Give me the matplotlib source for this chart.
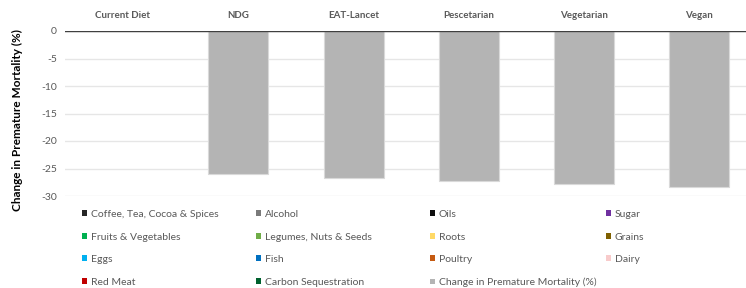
import matplotlib
matplotlib.use("Agg")
import matplotlib.pyplot as plt
from matplotlib.patches import Patch
import numpy as np

plt.rcParams['font.family'] = ['Lato', 'DejaVu Sans']

# ---- data ----
diets = ["Current Diet", "NDG", "EAT-Lancet", "Pescetarian", "Vegetarian", "Vegan"]
mortality_change = [0.0, -26.0, -26.8, -27.2, -27.9, -28.3]

components = ["Coffee, Tea, Cocoa & Spices", "Alcohol", "Oils", "Sugar",
              "Fruits & Vegetables", "Legumes, Nuts & Seeds", "Roots", "Grains",
              "Eggs", "Fish", "Poultry", "Dairy",
              "Red Meat", "Carbon Sequestration"]
component_values = {c: [0, 0, 0, 0, 0, 0] for c in components}
component_colors = ["#262626", "#7a7a7a", "#0d0d0d", "#7030a0",
                    "#00b050", "#70ad47", "#ffd966", "#7f6000",
                    "#00b0f0", "#0070c0", "#c55a11", "#f8cbcb",
                    "#c00000", "#00612e"]
mort_label = "Change in Premature Mortality (%)"
mort_color = "#b4b4b4"

yticks = [0, -5, -10, -15, -20, -25, -30]

W, H = 746, 288
fig = plt.figure(figsize=(W / 100, H / 100), dpi=100)
ax = fig.add_axes([65.3 / W, 1 - 196 / H, 1 - 65.3 / W, 165 / H])

x = np.arange(len(diets))
handles = []
for c, col in zip(components, component_colors):
    ax.bar(x, component_values[c], width=0.52, color=col)
    handles.append(Patch(facecolor=col, edgecolor='none', label=c))
ax.bar(x, mortality_change, width=0.52, color=mort_color,
       edgecolor="#d9d9d9", linewidth=0.8, zorder=3)
handles.append(Patch(facecolor=mort_color, edgecolor='none', label=mort_label))

ax.set_xlim(-0.5, 5.404)
ax.set_ylim(-30, 0)
ax.set_yticks(yticks)
ax.set_yticklabels([str(t) for t in yticks])
ax.grid(axis='y', color="#e6e6e6", linewidth=1.0, zorder=0)
ax.set_axisbelow(True)
ax.axhline(0, color="#404040", linewidth=1.0, zorder=4)
for s in ax.spines.values():
    s.set_visible(False)

ax.xaxis.tick_top()
ax.set_xticks(x)
ax.set_xticklabels(diets, fontsize=7, fontweight='bold', color="#595959")
ax.tick_params(axis='x', length=0, pad=8)
ax.tick_params(axis='y', length=0, pad=6, labelsize=7.5, labelcolor="#595959")

fig.text(17.5 / W, 1 - 120 / H, "Change in Premature Mortality (%)", rotation=90,
         ha='center', va='center', fontsize=8.5, fontweight='bold', color='black')

# legend: row-major, 4 columns, placed per column
col_x = [82, 256, 430, 606]
for ci in range(4):
    hs = handles[ci::4]
    fig.legend(handles=hs, loc='upper left',
               bbox_to_anchor=(col_x[ci] / W, 1 - 210 / H),
               frameon=False, fontsize=7.5, borderpad=0, borderaxespad=0,
               handlelength=0.5, handleheight=0.5, handletextpad=0.35,
               labelspacing=1.3, labelcolor="#595959")

fig.savefig("out.png", dpi=100)
